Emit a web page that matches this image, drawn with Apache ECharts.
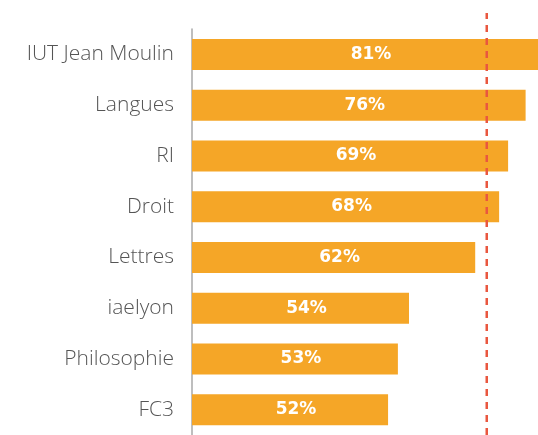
<!DOCTYPE html>
<html>
<head>
    <meta charset="utf-8">
    <script src="https://cdn.jsdelivr.net/npm/echarts@6/dist/echarts.min.js"></script>
</head>
<body style="margin:0">
    <div id="main" style="width: 538px;height:435px;"></div>
<script type="text/javascript">
    // composantes, de haut en bas
    var composantes = ['IUT Jean Moulin', 'Langues', 'RI', 'Droit', 'Lettres', 'iaelyon', 'Philosophie', 'FC3'];
    // taux affichés sur les barres (%)
    var taux = [81, 76, 69, 68, 62, 54, 53, 52];
    // longueur des barres telle que dessinée sur l'image
    var longueurs = [81, 78.1, 74, 71.9, 66.3, 50.8, 48.2, 45.9];
    // ligne de référence en pointillés
    var reference = 69;

    var myChart = echarts.init(document.getElementById('main'));

    var option = {
        backgroundColor: '#fff',
        animation: false,
        grid: [
            { left: 192, right: 0, top: 29, height: 408 },
            { left: 192, right: 0, top: 13, bottom: 0 }
        ],
        xAxis: [
            { type: 'value', min: 0, max: 81, show: false },
            { type: 'value', min: 0, max: 81, show: false, gridIndex: 1 }
        ],
        yAxis: [
            {
                type: 'category',
                data: composantes,
                inverse: true,
                axisLine: { show: true, lineStyle: { color: '#a9a9a9', width: 1.5 } },
                axisTick: { show: false },
                axisLabel: {
                    color: '#555',
                    fontFamily: 'Open Sans',
                    fontWeight: 300,
                    fontSize: 21,
                    margin: 18
                }
            },
            { type: 'value', min: 0, max: 1, show: false, gridIndex: 1 }
        ],
        series: [
            {
                type: 'bar',
                data: longueurs,
                barWidth: 31,
                itemStyle: { color: '#F5A627' },
                label: {
                    show: true,
                    position: 'inside',
                    offset: [6, 0],
                    color: '#fff',
                    fontFamily: 'DejaVu Sans',
                    fontWeight: 'bold',
                    fontSize: 17,
                    formatter: function (p) {
                        return taux[p.dataIndex] + '%';
                    }
                }
            },
            {
                type: 'line',
                xAxisIndex: 1,
                yAxisIndex: 1,
                symbol: 'none',
                z: 5,
                data: [[reference, 0], [reference, 1]],
                lineStyle: { color: '#E9573F', width: 2.5, type: [7, 6] }
            }
        ]
    };

    myChart.setOption(option);
</script>
</body>
</html>
